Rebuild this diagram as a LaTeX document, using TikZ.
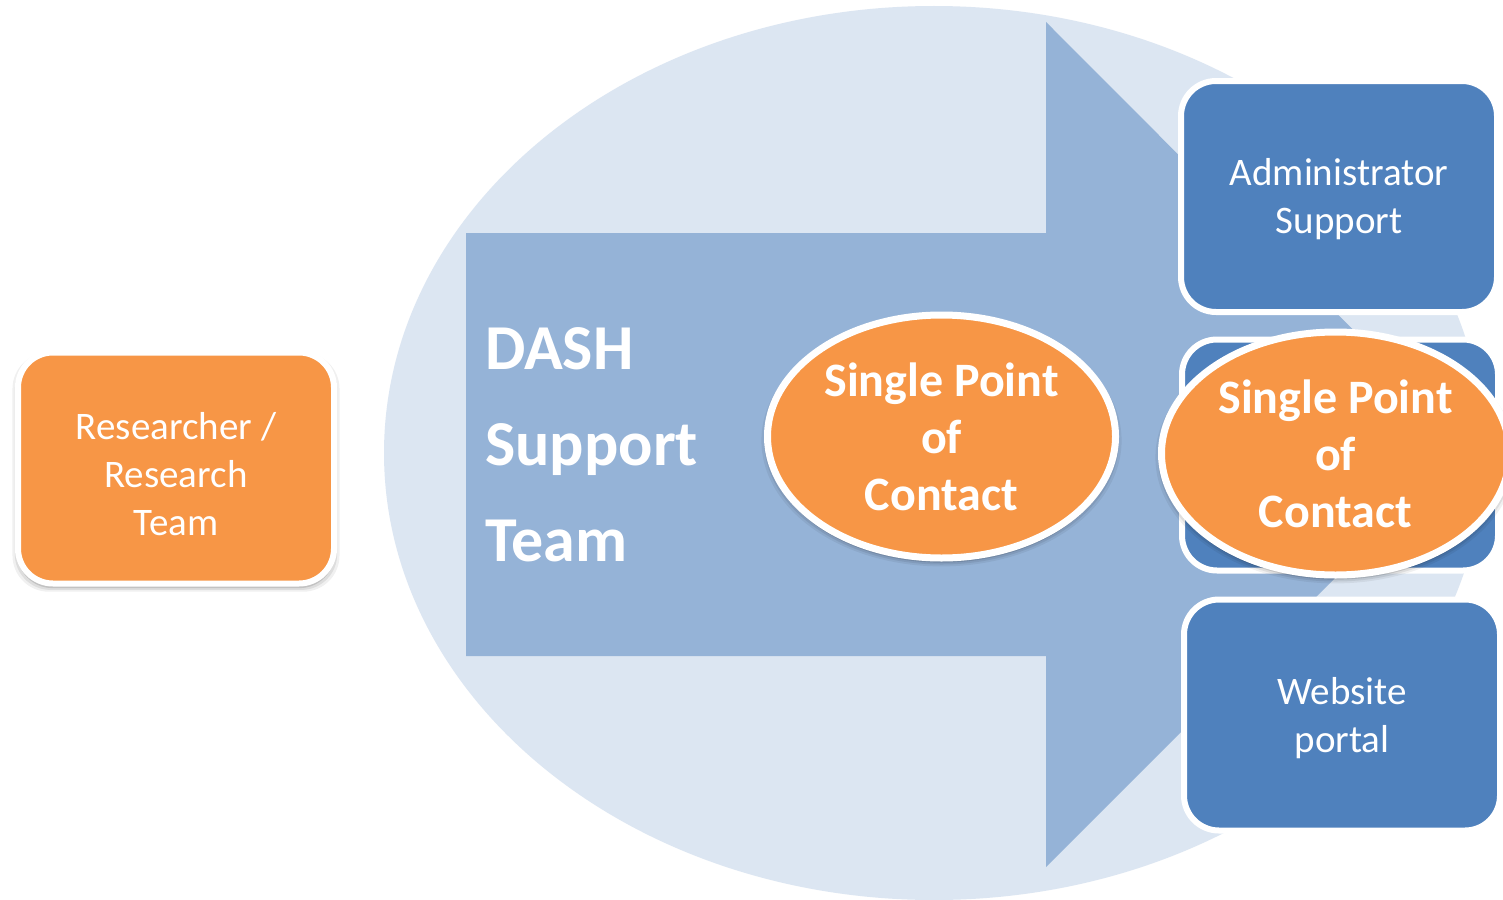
\documentclass[tikz,border=0pt]{standalone}
\usepackage{fontspec}
\setmainfont{Carlito}
\usetikzlibrary{shapes.geometric,shadows}
\definecolor{bgell}{HTML}{DCE6F2}
\definecolor{arrowc}{HTML}{95B3D7}
\definecolor{boxblue}{HTML}{4F81BD}
\definecolor{boxorange}{HTML}{F79646}
\begin{document}
\begin{tikzpicture}[x=1pt,y=-1pt,
  rbox/.style={rectangle, rounded corners=35pt, draw=white, line width=6pt, inner sep=0pt,
    minimum width=316pt, minimum height=231pt},
  btxt/.style={align=center, text=white, inner sep=0pt, font=\fontsize{39}{48}\selectfont},
  spoc/.style={ellipse, draw=white, line width=7pt, fill=boxorange, inner sep=0pt,
    align=center, text=white, font=\bfseries\fontsize{48}{57}\selectfont,
    minimum width=348pt, minimum height=243pt},
  sh/.style={
    general shadow={fill=black, opacity=0.06, shadow scale=1.035, shadow yshift=-4pt},
    general shadow={fill=black, opacity=0.08, shadow scale=1.02, shadow yshift=-4pt},
    general shadow={fill=black, opacity=0.12, shadow scale=1.005, shadow yshift=-4pt}}]
\useasboundingbox (0,0) rectangle (1503,899);
\fill[white] (0,0) rectangle (1503,899);
% background ellipse
\fill[bgell] (934,453) ellipse [x radius=550, y radius=447];
% big arrow
\fill[arrowc] (466,233) -- (1046,233) -- (1046,22) -- (1468,445) -- (1046,867)
  -- (1046,656) -- (466,656) -- cycle;
% DASH text
\node[anchor=west, align=left, text=white, inner sep=0pt,
  font=\bfseries\fontsize{64}{96}\selectfont] (dash) at (485,445) {DASH\\Support\\Team};
% researcher box
\node[rbox, fill=boxorange, sh] (res) at (176,468) {};
\node[btxt] (restxt) at ([yshift=-6pt]res.center) {Researcher /\\Research\\Team};
% middle ellipse
\node[spoc, sh] (spoc1) at (941.5,436.5) {Single Point\\of\\Contact};
% right column
\node[rbox, fill=boxblue] (admin) at (1339,196.5) {};
\node[btxt] (admintxt) at ([yshift=-3pt]admin.center) {Administrator\\Support};
\node[rbox, fill=boxblue] (midbox) at (1340,455) {};
\node[rbox, fill=boxblue] (web) at (1342,715) {};
\node[btxt] (webtxt) at ([yshift=-3pt]web.center) {Website\\portal};
\node[spoc, sh] (spoc2) at (1335.5,453.5) {Single Point\\of\\Contact};
\end{tikzpicture}
\end{document}
